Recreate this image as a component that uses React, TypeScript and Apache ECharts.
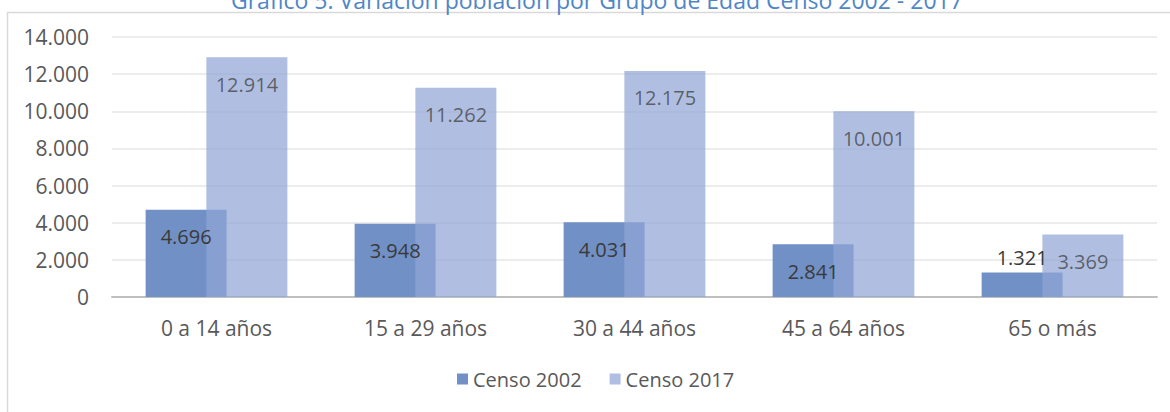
import React, { useEffect, useRef } from "react";
import * as echarts from "echarts";

const categories = ["0 a 14 años", "15 a 29 años", "30 a 44 años", "45 a 64 años", "65 o más"];
const censo2002 = [4696, 3948, 4031, 2841, 1321];
const censo2017 = [12914, 11262, 12175, 10001, 3369];
const seriesNames = ["Censo 2002", "Censo 2017"];
const titleText = "Gráfico 5: Variación población por Grupo de Edad Censo 2002 - 2017";
const yTicks = { min: 0, max: 14000, interval: 2000 };

const fmt = (v: number) => String(v).replace(/\B(?=(\d{3})+(?!\d))/g, ".");

export default function App() {
  const ref = useRef<HTMLDivElement>(null);
  useEffect(() => {
    document.body.style.margin = "0";
    const chart = echarts.init(ref.current!, null, { renderer: "svg" });
    const font = "'Open Sans', Lato, sans-serif";
    const labelBase = {
      show: true,
      position: "insideTop" as const,
      distance: 17,
      fontSize: 20,
      color: "#3a3a3a",
      fontFamily: font,
      formatter: (p: any) => fmt(p.value),
    };
    chart.setOption({
      animation: false,
      backgroundColor: "#ffffff",
      title: {
        text: titleText,
        left: 226,
        top: -17,
        textStyle: { color: "#4f86c6", fontSize: 23, fontWeight: "normal", fontFamily: font },
      },
      graphic: [
        {
          type: "rect",
          shape: { x: 7.5, y: 12.5, width: 1300, height: 600 },
          style: { fill: "none", stroke: "#d9d9d9", lineWidth: 1.5 },
          silent: true,
          z: -1,
        },
      ],
      legend: {
        data: seriesNames,
        bottom: 18,
        left: 452,
        itemWidth: 11,
        itemHeight: 11,
        itemGap: 28,
        icon: "rect",
        textStyle: { color: "#595959", fontSize: 20, fontFamily: font },
      },
      grid: { left: 112, right: 13, top: 37, bottom: 115, containLabel: false },
      xAxis: {
        type: "category",
        data: categories,
        axisLine: { lineStyle: { color: "#bfbfbf", width: 2 } },
        axisTick: { show: false },
        axisLabel: { color: "#595959", fontSize: 21, fontFamily: font, margin: 20 },
      },
      yAxis: {
        type: "value",
        min: yTicks.min,
        max: yTicks.max,
        interval: yTicks.interval,
        axisLine: { show: false },
        axisTick: { show: false },
        splitLine: { lineStyle: { color: "#e6e6e6", width: 1.5 } },
        axisLabel: {
          color: "#595959",
          fontSize: 21,
          fontFamily: font,
          margin: 23,
          formatter: (v: number) => fmt(v),
        },
      },
      series: [
        {
          name: seriesNames[0],
          type: "bar",
          barWidth: 81,
          barGap: "-25%",
          itemStyle: { color: "#7191c6" },
          label: labelBase,
          data: censo2002.map((v, i) =>
            i === censo2002.length - 1
              ? { value: v, label: { position: "top", distance: 5 } }
              : v
          ),
        },
        {
          name: seriesNames[1],
          type: "bar",
          barWidth: 81,
          barGap: "-25%",
          itemStyle: { color: "rgb(146,166,213)", opacity: 0.72 },
          label: labelBase,
          data: censo2017,
        },
      ],
    });
    return () => chart.dispose();
  }, []);
  return <div ref={ref} style={{ width: 1170, height: 412 }} />;
}
